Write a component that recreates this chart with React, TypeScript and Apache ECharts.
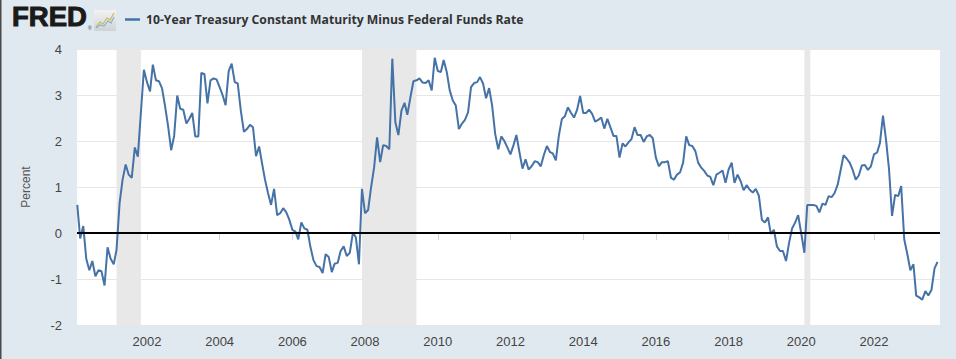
import React, { useEffect, useRef } from "react";
import * as echarts from "echarts";

// Monthly spread (percent), starting February 2000
const spread2000to2005 = [
  0.61, -0.12, 0.15, -0.56, -0.81, -0.61, -0.94, -0.81, -0.83, -1.14, -0.31, -0.56,
  -0.68, -0.37, 0.65, 1.16, 1.49, 1.27, 1.2, 1.86, 1.66, 2.62, 3.55, 3.28,
  3.08, 3.66, 3.32, 3.3, 3.15, 2.77, 2.33, 1.8, 2.11, 2.99, 2.7, 2.68,
  2.38, 2.48, 2.61, 2.1, 2.1, 3.48, 3.46, 2.82, 3.32, 3.36, 3.34, 3.17,
  2.99, 2.78, 3.52, 3.68, 3.28, 3.25, 2.66, 2.2, 2.26, 2.35, 2.3, 1.67,
];
const spread2005to2010 = [
  1.88, 1.53, 1.16, 0.87, 0.61, 0.96, 0.39, 0.43, 0.54, 0.45, 0.29, 0.07,
  0.03, -0.14, 0.23, 0.1, 0.07, -0.3, -0.59, -0.72, -0.74, -0.87, -0.46, -0.52,
  -0.85, -0.67, -0.65, -0.39, -0.29, -0.5, -0.43, 0.01, -0.1, -0.68, 0.96, 0.43,
  0.5, 0.98, 1.42, 2.08, 1.54, 1.91, 1.89, 1.82, 3.79, 2.4, 2.13, 2.66,
  2.83, 2.57, 2.95, 3.3, 3.32, 3.36, 3.27, 3.26, 3.32, 3.1, 3.81, 3.52,
];
const spread2010to2015 = [
  3.5, 3.76, 3.5, 3.1, 2.88, 2.77, 2.26, 2.38, 2.46, 2.62, 3.17, 3.26,
  3.28, 3.39, 3.25, 2.93, 3.15, 2.77, 2.15, 1.82, 2.1, 2.0, 1.86, 1.71,
  1.91, 2.13, 1.75, 1.4, 1.6, 1.38, 1.45, 1.56, 1.54, 1.45, 1.69, 1.89,
  1.76, 1.73, 1.58, 2.11, 2.48, 2.54, 2.73, 2.61, 2.51, 2.68, 2.98, 2.61,
  2.61, 2.68, 2.59, 2.42, 2.46, 2.51, 2.27, 2.48, 2.3, 2.11, 2.11, 1.64,
];
const spread2015to2020 = [
  1.95, 1.88, 1.97, 2.04, 2.3, 2.13, 2.13, 1.98, 2.1, 2.13, 2.06, 1.64,
  1.45, 1.54, 1.54, 1.56, 1.2, 1.16, 1.27, 1.32, 1.53, 2.1, 1.91, 1.89,
  1.78, 1.53, 1.42, 1.35, 1.25, 1.22, 1.04, 1.27, 1.31, 1.36, 1.09, 1.38,
  1.53, 1.09, 1.27, 1.13, 0.93, 1.04, 0.94, 0.88, 0.96, 0.81, 0.29, 0.23,
  0.34, -0.02, 0.07, -0.29, -0.39, -0.39, -0.61, -0.21, 0.1, 0.23, 0.39, -0.01,
];
const spread2020to2023 = [
  -0.43, 0.61, 0.61, 0.61, 0.59, 0.45, 0.64, 0.61, 0.8, 0.78, 0.87, 1.05,
  1.38, 1.69, 1.62, 1.53, 1.37, 1.16, 1.25, 1.47, 1.48, 1.37, 1.45, 1.71,
  1.75, 1.95, 2.55, 2.04, 1.38, 0.37, 0.83, 0.8, 1.02, -0.14, -0.45, -0.81,
  -0.68, -1.36, -1.4, -1.45, -1.26, -1.36, -1.24, -0.77, -0.63,
];

const seriesName = "10-Year Treasury Constant Maturity Minus Federal Funds Rate";
const xTickYears = [2002, 2004, 2006, 2008, 2010, 2012, 2014, 2016, 2018, 2020, 2022];
const recessions = [
  ["2001-03-01", "2001-11-01"],
  ["2007-12-01", "2009-06-01"],
  ["2020-02-01", "2020-04-01"],
];

const FONT = "'Liberation Sans Narrow', 'Liberation Sans', Arial, sans-serif";

export default function App() {
  const ref = useRef<HTMLDivElement>(null);

  useEffect(() => {
    if (!ref.current) return;
    const chart = echarts.init(ref.current, undefined, { renderer: "svg" });

    const values = [
      ...spread2000to2005,
      ...spread2005to2010,
      ...spread2010to2015,
      ...spread2015to2020,
      ...spread2020to2023,
    ];
    const data = values.map((v, i) => [Date.UTC(2000, 1 + i, 1), v]);
    const tickTimes = xTickYears.map((y) => Date.UTC(y, 0, 1));
    const toTs = (s: string) => {
      const [y, m, d] = s.split("-").map(Number);
      return Date.UTC(y, m - 1, d);
    };

    chart.setOption({
      animation: false,
      backgroundColor: "#e1e9f0",
      grid: {
        left: 77,
        right: 16,
        top: 49,
        bottom: 34,
        show: true,
        backgroundColor: "#ffffff",
        borderWidth: 0,
      },
      xAxis: {
        type: "value",
        min: Date.UTC(2000, 0, 29),
        max: Date.UTC(2023, 9, 26),
        axisLine: { show: true, lineStyle: { color: "#ccd6eb", width: 1 } },
        axisTick: {
          show: true,
          length: 7,
          customValues: tickTimes,
          lineStyle: { color: "#ccd6eb" },
        },
        axisLabel: {
          customValues: tickTimes,
          formatter: (v: number) => String(new Date(v).getUTCFullYear()),
          color: "#444",
          fontSize: 13,
          fontFamily: FONT,
          margin: 10,
        },
        splitLine: { show: false },
      },
      yAxis: {
        type: "value",
        min: -2,
        max: 4,
        interval: 1,
        name: "Percent",
        nameLocation: "middle",
        nameRotate: 90,
        nameGap: 45,
        nameTextStyle: { color: "#555", fontSize: 12, fontFamily: "'Liberation Sans', Arial, sans-serif" },
        axisLine: { show: false },
        axisTick: { show: false },
        axisLabel: { color: "#444", fontSize: 13, fontFamily: FONT, margin: 15 },
        splitLine: { show: true, lineStyle: { color: "#e6e6e6", width: 1 } },
      },
      series: [
        {
          name: seriesName,
          type: "line",
          data,
          showSymbol: false,
          symbol: "none",
          lineStyle: { color: "#4572a7", width: 2 },
          itemStyle: { color: "#4572a7" },
          z: 3,
          markArea: {
            silent: true,
            itemStyle: { color: "#e8e8e8" },
            data: recessions.map(([a, b]) => [{ xAxis: toTs(a) }, { xAxis: toTs(b) }]),
          },
          markLine: {
            silent: true,
            symbol: ["none", "none"],
            label: { show: false },
            lineStyle: { color: "#000000", width: 2, type: "solid" },
            data: [{ yAxis: 0 }],
          },
        },
      ],
      graphic: [
        { type: "rect", shape: { x: 0, y: 0, width: 1.5, height: 359 }, style: { fill: "#4a4a4a" } },
        {
          type: "text",
          x: 12,
          y: 30,
          style: {
            text: "FRED",
            fill: "#1a1a1a",
            stroke: "#1a1a1a",
            lineWidth: 1,
            fontSize: 27.5,
            fontWeight: "bold",
            fontFamily: "'Liberation Sans', Arial, sans-serif",
            verticalAlign: "bottom",
            textVerticalAlign: "bottom",
          },
        },
        {
          type: "text",
          x: 88,
          y: 30,
          style: { text: "®", fill: "#333", fontSize: 5, verticalAlign: "bottom", textVerticalAlign: "bottom" },
        },
        {
          type: "rect",
          shape: { x: 94, y: 10, width: 22, height: 21, r: 1 },
          style: {
            fill: new echarts.graphic.LinearGradient(0, 0, 0, 1, [
              { offset: 0, color: "#f2f2f2" },
              { offset: 1, color: "#cfd3d6" },
            ]),
          },
        },
        {
          type: "polyline",
          shape: { points: [[96, 27], [100, 22], [103, 24], [107, 18], [110, 20], [114, 13]] },
          style: { stroke: "#c9b95a", lineWidth: 1.2, fill: "none" },
        },
        {
          type: "polyline",
          shape: { points: [[96, 28], [100, 25], [104, 26], [108, 21], [111, 23], [114, 17]] },
          style: { stroke: "#8fb0c4", lineWidth: 1.2, fill: "none" },
        },
        {
          type: "line",
          shape: { x1: 125, y1: 19.5, x2: 140, y2: 19.5 },
          style: { stroke: "#4572a7", lineWidth: 2.5 },
        },
        {
          type: "text",
          x: 146,
          y: 19.5,
          style: {
            text: seriesName,
            fill: "#333333",
            fontSize: 12.2,
            fontWeight: "bold",
            fontFamily: "'Open Sans', sans-serif",
            verticalAlign: "middle",
            textVerticalAlign: "middle",
          },
        },
      ],
    });

    return () => chart.dispose();
  }, []);

  return (
    <div
      ref={ref}
      style={{ position: "fixed", left: 0, top: 0, width: 956, height: 359 }}
    />
  );
}
